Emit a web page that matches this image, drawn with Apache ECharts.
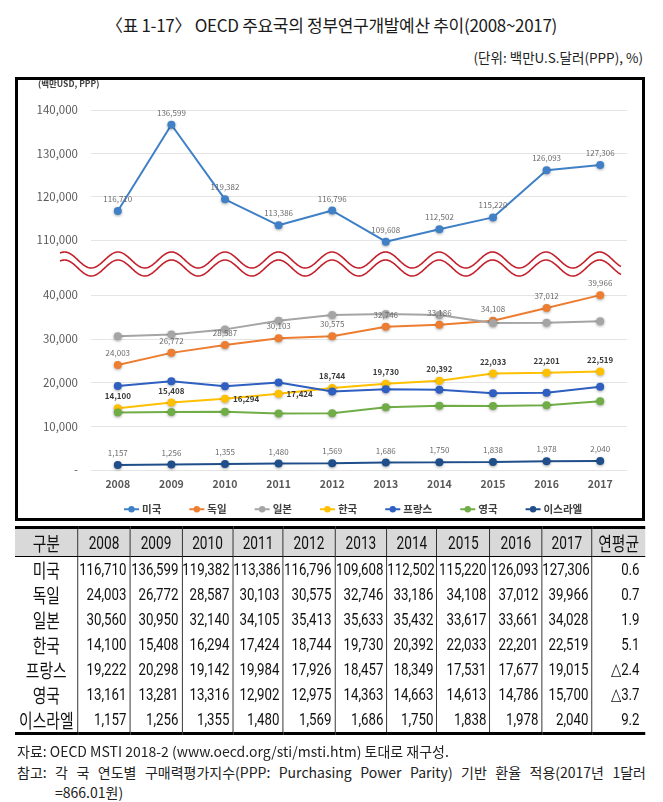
<!DOCTYPE html>
<html><head><meta charset="utf-8">
<script src="https://cdn.jsdelivr.net/npm/echarts/dist/echarts.min.js"></script>
<style>
html,body{margin:0;padding:0;background:#fff;}
body{width:663px;height:802px;position:relative;overflow:hidden;font-family:"Noto Sans CJK KR","Noto Sans",sans-serif;color:#1a1a1a;}
#title{position:absolute;left:0;top:13px;width:663px;text-align:center;font-size:17px;line-height:24px;letter-spacing:-0.3px;}
#unit{position:absolute;right:20px;top:46px;font-size:13.5px;line-height:22px;color:#222;}
#box{position:absolute;left:15px;top:77px;width:630px;height:444px;border:3px solid #000;box-sizing:border-box;}
#chart{position:absolute;left:0;top:0;width:663px;height:525px;}
#tbl{position:absolute;left:15px;top:526px;border-collapse:collapse;table-layout:fixed;font-family:Roboto,"Noto Sans",sans-serif;transform:scaleX(0.78);transform-origin:0 0;}
#tbl th{background:#d9d9d9;height:26px;font-weight:normal;font-size:17.5px;border-left:1.3px solid #000;border-top:3px solid #000;border-bottom:1px solid #000;padding:0;text-align:center;color:#111;white-space:nowrap;}
#tbl td{height:25px;padding:0 4px 0 0;font-size:17px;border-left:1.3px solid #000;text-align:right;color:#111;line-height:25px;white-space:nowrap;}
#tbl tr:last-child td{border-bottom:3px solid #000;}
#tbl th:first-child,#tbl td:first-child{border-left:none;}
#tbl td:first-child{text-align:center;padding:0;font-family:"Noto Sans CJK KR",sans-serif;font-size:19px;}
#tbl th.k{font-family:"Noto Sans CJK KR",sans-serif;font-size:19px;}
#tbl td:last-child{padding-right:7px;}
.note{position:absolute;left:17px;width:629px;font-size:14px;line-height:20px;color:#222;white-space:nowrap;}
</style></head>
<body>
<div id="title">〈표 1-17〉 OECD 주요국의 정부연구개발예산 추이(2008~2017)</div>
<div id="unit">(단위: 백만U.S.달러(PPP), %)</div>
<div id="chart"></div>
<div id="box"></div>
<table id="tbl"></table>
<div class="note" id="n1" style="top:741px;">자료: OECD MSTI 2018-2 (www.oecd.org/sti/msti.htm) 토대로 재구성.</div>
<div class="note" id="n2" style="top:762px;text-align:justify;text-align-last:justify;white-space:normal;">참고: 각 국 연도별 구매력평가지수(PPP: Purchasing Power Parity) 기반 환율 적용(2017년 1달러</div>
<div class="note" id="n3" style="top:782px;left:55px;">=866.01원)</div>
<script>
const years = ['2008','2009','2010','2011','2012','2013','2014','2015','2016','2017'];
const countries = ['미국','독일','일본','한국','프랑스','영국','이스라엘'];
const us      = [116710,136599,119382,113386,116796,109608,112502,115220,126093,127306];
const germany = [24003,26772,28587,30103,30575,32746,33186,34108,37012,39966];
const japan   = [30560,30950,32140,34105,35413,35633,35432,33617,33661,34028];
const korea   = [14100,15408,16294,17424,18744,19730,20392,22033,22201,22519];
const france  = [19222,20298,19142,19984,17926,18457,18349,17531,17677,19015];
const uk      = [13161,13281,13316,12902,12975,14363,14663,14613,14786,15700];
const israel  = [1157,1256,1355,1480,1569,1686,1750,1838,1978,2040];
const avgGrowth = ['0.6','0.7','1.9','5.1','△2.4','△3.7','9.2'];
const topTicks = [110000,140000];
const bottomTicks = [0,40000];
const koreaLabelPos = ['top','top','right','right','top','top','top','top','top','top'];

const colors = ['#3f80c6','#ed7d31','#a5a5a5','#ffc000','#2f5fc0','#70ad47','#1f4e8a'];
const fmt = v => v.toLocaleString('en-US');

// table (drawn condensed: whole table scaled horizontally by 0.78)
const sx = 0.78;
const tbl = document.getElementById('tbl');
const widths = [63,52,52,51,50,52,52,50,53,52,50,53];
tbl.style.width = (630/sx) + 'px';
let html = '<colgroup>' + widths.map(w=>'<col style="width:'+(w/sx)+'px">').join('') + '</colgroup>';
html += '<tr><th class="k">구분</th>' + years.map(y=>'<th>'+y+'</th>').join('') + '<th class="k">연평균</th></tr>';
const rows = [us,germany,japan,korea,france,uk,israel];
rows.forEach((r,i)=>{
  html += '<tr><td>'+countries[i]+'</td>' + r.map(v=>'<td>'+fmt(v)+'</td>').join('') + '<td>'+avgGrowth[i]+'</td></tr>';
});
tbl.innerHTML = html;

const chart = echarts.init(document.getElementById('chart'), null, {renderer:'canvas'});
const gl = 91, gw = 536;
const font = '"Noto Sans CJK KR","Noto Sans",sans-serif';
const lblStyle = {show:true, position:'top', fontSize:8, color:'#6b6b6b', distance:4, fontFamily:font};
const itemShadow = {shadowBlur:3, shadowColor:'rgba(0,0,0,0.35)', shadowOffsetY:1};

function mkSeries(name, data, idx, axisIdx, label){
  return {
    name, type:'line', data, xAxisIndex:axisIdx, yAxisIndex:axisIdx,
    symbol:'circle', symbolSize:8, clip:false,
    lineStyle:{width:2, color:colors[idx]},
    itemStyle:Object.assign({color:colors[idx]}, itemShadow),
    label: label || {show:false},
    emphasis:{disabled:true}, animation:false, z: 3
  };
}

// wave break decoration
function wave(cy){
  const pts=[];
  for(let x=60;x<=621;x+=1){
    pts.push([x, cy - 8*Math.cos(2*Math.PI*(x-118)/53.5)]);
  }
  return {type:'polyline', shape:{points:pts}, style:{stroke:'#c3202b', lineWidth:1.6, fill:null}, silent:true};
}

const option = {
  animation:false,
  textStyle:{fontFamily:font},
  grid:[
    {left:gl, width:gw, top:110, height:130},
    {left:gl, width:gw, top:295, height:175}
  ],
  xAxis:[
    {gridIndex:0, type:'category', data:years, axisLine:{show:false}, axisTick:{show:false}, axisLabel:{show:false}},
    {gridIndex:1, type:'category', data:years, axisLine:{show:false}, axisTick:{show:false},
     axisLabel:{fontSize:10.5, fontWeight:'bold', color:'#595959', margin:9}}
  ],
  yAxis:[
    {gridIndex:0, type:'value', min:topTicks[0], max:topTicks[1], interval:10000,
     axisLine:{show:false}, axisTick:{show:false},
     axisLabel:{fontSize:11.5, color:'#595959', margin:13, formatter:v=>fmt(v)},
     splitLine:{lineStyle:{color:'#e4e4e4', width:1}}},
    {gridIndex:1, type:'value', min:bottomTicks[0], max:bottomTicks[1], interval:10000,
     axisLine:{show:false}, axisTick:{show:false},
     axisLabel:{fontSize:11.5, color:'#595959', margin:13, formatter:v=> v===0 ? '-' : fmt(v)},
     splitLine:{lineStyle:{color:'#e4e4e4', width:1}}}
  ],
  legend:{
    left:118, top:499, itemWidth:15, itemHeight:8, itemGap:27,
    data:countries,
    textStyle:{fontSize:10.5, fontWeight:'bold', color:'#404040', padding:[0,0,0,-2]}
  },
  graphic:[
    {type:'text', left:38, top:80, style:{text:'(백만USD, PPP)', font:'bold 8.5px '+font, fill:'#404040'}},
    wave(260), wave(268)
  ],
  series:[
    mkSeries('미국', us, 0, 0, lblStyle),
    mkSeries('독일', germany, 1, 1, lblStyle),
    mkSeries('일본', japan, 2, 1),
    mkSeries('한국', korea.map((v,i)=>({value:v, label:{position:koreaLabelPos[i]}})), 3, 1,
      Object.assign({}, lblStyle, {fontWeight:'bold', color:'#3a3a3a'})),
    mkSeries('프랑스', france, 4, 1),
    mkSeries('영국', uk, 5, 1),
    mkSeries('이스라엘', israel, 6, 1, lblStyle)
  ]
};
option.series.forEach(s=>{ if(s.label && s.label.show) s.label.formatter = p => fmt(p.value); });
chart.setOption(option);
</script>
</body></html>
